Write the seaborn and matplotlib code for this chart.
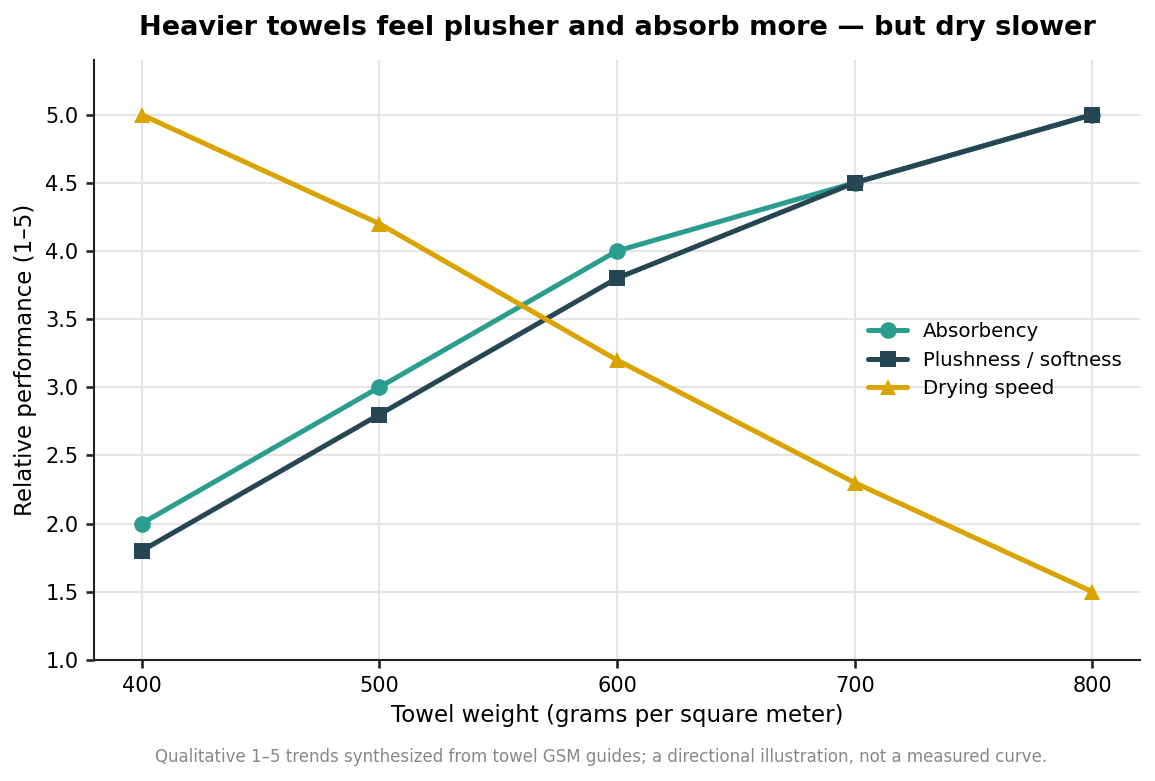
import numpy as np
import pandas as pd
import matplotlib
matplotlib.use("Agg")
import matplotlib.pyplot as plt
import seaborn as sns

# Data
gsm = [400, 500, 600, 700, 800]
absorbency = [2.0, 3.0, 4.0, 4.5, 5.0]
plushness = [1.8, 2.8, 3.8, 4.5, 5.0]
drying_speed = [5.0, 4.2, 3.2, 2.3, 1.5]
series_names = ["Absorbency", "Plushness / softness", "Drying speed"]

df = pd.DataFrame({
    "GSM": gsm * 3,
    "Score": absorbency + plushness + drying_speed,
    "Metric": [series_names[0]] * 5 + [series_names[1]] * 5 + [series_names[2]] * 5,
})

sns.set_theme(style="whitegrid")
plt.rcParams["font.family"] = ["DejaVu Sans"]
plt.rcParams["text.color"] = "black"
plt.rcParams["axes.labelcolor"] = "black"
plt.rcParams["xtick.color"] = "black"
plt.rcParams["ytick.color"] = "black"

palette = {"Absorbency": "#2a9d8f", "Plushness / softness": "#264653", "Drying speed": "#d9a300"}
markers = {"Absorbency": "o", "Plushness / softness": "s", "Drying speed": "^"}

fig = plt.figure(figsize=(7.7, 5.207), dpi=150)
ax = fig.add_axes([0.0814, 0.155, 0.9056, 0.768])

sns.lineplot(data=df, x="GSM", y="Score", hue="Metric", style="Metric",
             palette=palette, markers=markers, dashes=False, linewidth=2.4,
             markersize=8, markeredgewidth=0, ax=ax)

ax.set_xlim(380, 820)
ax.set_ylim(1.0, 5.4)
ax.set_xticks(gsm)
ax.set_yticks(np.arange(1.0, 5.01, 0.5))
ax.set_yticklabels([f"{v:.1f}" for v in np.arange(1.0, 5.01, 0.5)])
ax.tick_params(axis="both", labelsize=10, length=4, color="#222222", left=True, bottom=True)
ax.grid(True, color="#e5e5e5", linewidth=1.0)
for s in ["top", "right"]:
    ax.spines[s].set_visible(False)
for s in ["left", "bottom"]:
    ax.spines[s].set_color("#222222")
    ax.spines[s].set_linewidth(1.0)

ax.set_xlabel("Towel weight (grams per square meter)", fontsize=11)
ax.set_ylabel("Relative performance (1–5)", fontsize=11)
ax.set_title("Heavier towels feel plusher and absorb more — but dry slower",
             fontsize=13, fontweight="bold", pad=12)

leg = ax.legend(loc="center right", bbox_to_anchor=(1.0, 0.5), frameon=False, fontsize=9.5)
leg.set_title(None)

fig.text(0.52, 0.025, "Qualitative 1–5 trends synthesized from towel GSM guides; a directional illustration, not a measured curve.",
         ha="center", fontsize=8, color="#888888")

fig.savefig("out.png", dpi=150)
